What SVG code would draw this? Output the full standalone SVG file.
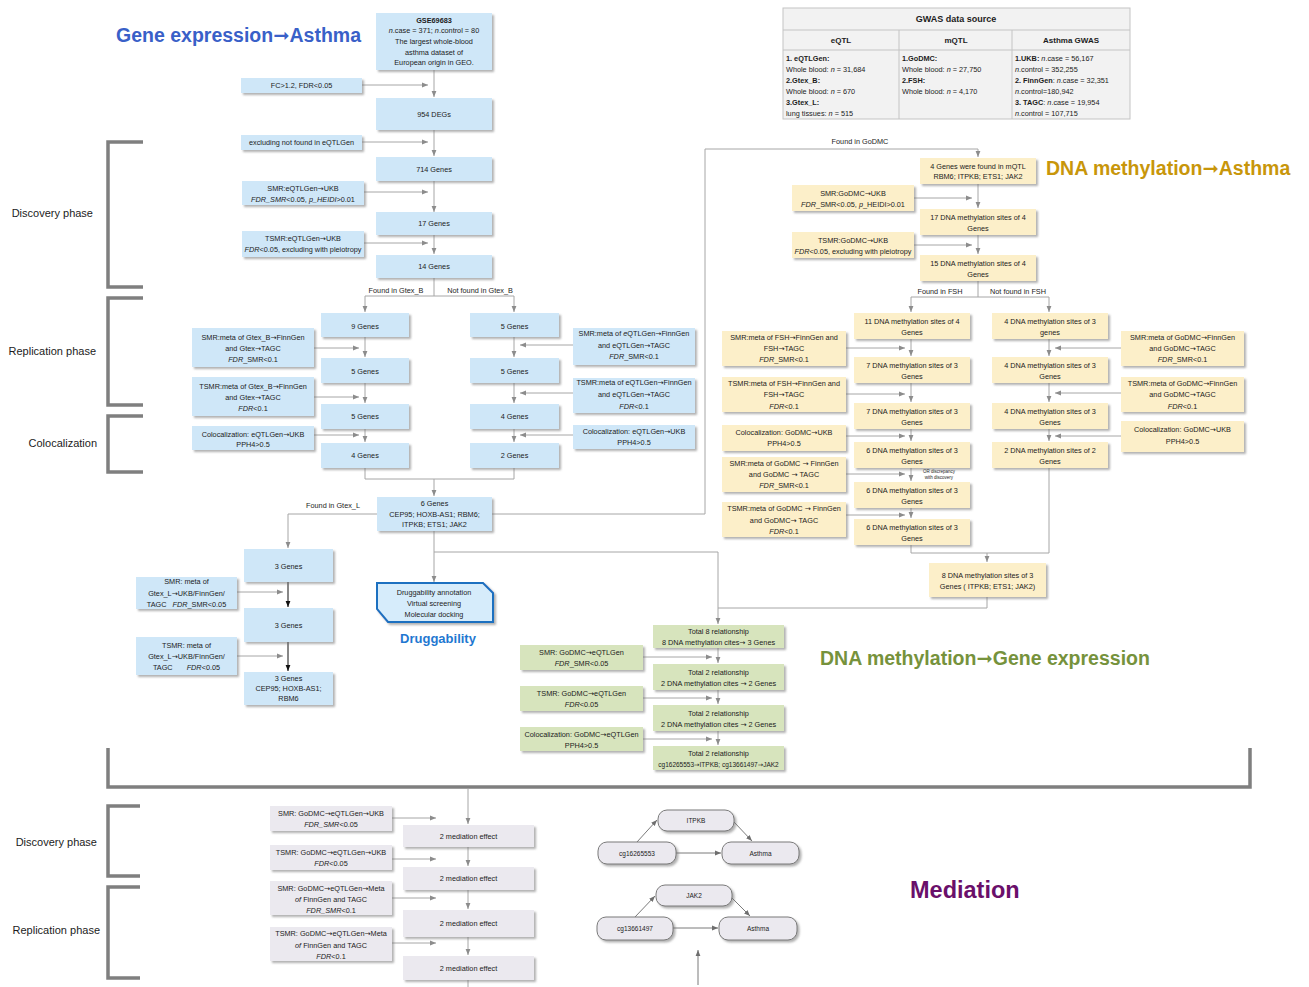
<svg xmlns="http://www.w3.org/2000/svg" width="1309" height="987" viewBox="0 0 1309 987">
<defs>
<filter id="sh" x="-10%" y="-15%" width="125%" height="150%"><feDropShadow dx="2" dy="2" stdDeviation="0.9" flood-color="#6f6f6f" flood-opacity="0.55"/></filter>
<marker id="a" viewBox="0 0 10 10" refX="10" refY="5" markerWidth="6" markerHeight="6" orient="auto" markerUnits="userSpaceOnUse"><path d="M0,1 L10,5 L0,9 z" fill="#8c8c8c"/></marker>
<marker id="k" viewBox="0 0 10 10" refX="10" refY="5" markerWidth="6" markerHeight="6" orient="auto" markerUnits="userSpaceOnUse"><path d="M0,1 L10,5 L0,9 z" fill="#111"/></marker>
<marker id="d" viewBox="0 0 10 10" refX="10" refY="5" markerWidth="6" markerHeight="6" orient="auto" markerUnits="userSpaceOnUse"><path d="M0,1 L10,5 L0,9 z" fill="#6e6e6e"/></marker>
</defs>
<style>
text{font-family:"Liberation Sans",Arial,sans-serif;fill:#1c1c1c}
.t{font-size:7.3px;text-anchor:middle}
.s{font-size:6.5px;text-anchor:middle}
.l{font-size:7.3px}
.bo{font-weight:bold}
.i{font-style:italic}
.ar{font-family:"DejaVu Sans",sans-serif;font-style:normal}
.h{font-weight:bold;font-size:19.5px}
.ph{font-size:11px;text-anchor:end}
.b{fill:#cfe7f8;filter:url(#sh)}
.y{fill:#fcefc9;filter:url(#sh)}
.g{fill:#d7e4bd;filter:url(#sh)}
.p{fill:#ebe9ef;filter:url(#sh)}
.pill{fill:#ebe9ef;stroke:#7a7a7a;stroke-width:1;filter:url(#sh)}
.c{fill:none;stroke:#a6a6a6;stroke-width:1}
.ca{fill:none;stroke:#a6a6a6;stroke-width:1;marker-end:url(#a)}
.ck{fill:none;stroke:#111;stroke-width:1;marker-end:url(#k)}
.cd{fill:none;stroke:#7a7a7a;stroke-width:1;marker-end:url(#d)}
.br{fill:none;stroke:#7f7f7f;stroke-width:3.5}
</style>
<rect width="1309" height="987" fill="#ffffff"/>

<!-- titles -->
<text x="116" y="42" class="h" style="fill:#3960c8">Gene expression<tspan class="ar">➞</tspan>Asthma</text>
<text x="1046" y="175" class="h" style="fill:#c8960a">DNA methylation<tspan class="ar">➞</tspan>Asthma</text>
<text x="820" y="665" class="h" style="fill:#76923c">DNA methylation<tspan class="ar">➞</tspan>Gene expression</text>
<text x="438" y="643" class="bo" style="fill:#1f78d1;font-size:13px;text-anchor:middle">Druggability</text>
<text x="910" y="898" class="bo" style="fill:#6a0f6a;font-size:23.5px">Mediation</text>

<!-- brackets -->
<g id="brackets">
<path class="br" d="M143,142 H108 V287 H143"/>
<path class="br" d="M143,298 H108 V405 H143"/>
<path class="br" d="M143,416 H108 V472 H143"/>
<path class="br" d="M108,748 V787 H1250 V748"/>
<path class="br" d="M140,806 H108 V876 H140"/>
<path class="br" d="M140,887 H108 V978 H140"/>
<text x="93" y="217" class="ph">Discovery phase</text>
<text x="96" y="355" class="ph">Replication phase</text>
<text x="97" y="447" class="ph">Colocalization</text>
<text x="97" y="846" class="ph">Discovery phase</text>
<text x="100" y="934" class="ph">Replication phase</text>
</g>

<!-- GWAS table -->
<g id="gwas_table">
<rect x="783" y="8" width="347" height="111" fill="#f2f2f2" stroke="#c4c4c4"/>
<line x1="783" y1="30" x2="1130" y2="30" stroke="#c4c4c4"/>
<line x1="783" y1="50" x2="1130" y2="50" stroke="#c4c4c4"/>
<line x1="899" y1="30" x2="899" y2="119" stroke="#c4c4c4"/>
<line x1="1012" y1="30" x2="1012" y2="119" stroke="#c4c4c4"/>
<text x="956" y="22" class="bo" style="font-size:9px;text-anchor:middle">GWAS data source</text>
<text x="841" y="43" class="bo" style="font-size:8px;text-anchor:middle">eQTL</text>
<text x="956" y="43" class="bo" style="font-size:8px;text-anchor:middle">mQTL</text>
<text x="1071" y="43" class="bo" style="font-size:8px;text-anchor:middle">Asthma GWAS</text>
<text x="786" y="61" class="l bo">1. eQTLGen:</text>
<text x="786" y="71.5" class="l">Whole blood: <tspan class="i">n</tspan> = 31,684</text>
<text x="786" y="82.5" class="l bo">2.Gtex_B:</text>
<text x="786" y="93.5" class="l">Whole blood: <tspan class="i">n</tspan> = 670</text>
<text x="786" y="104.5" class="l bo">3.Gtex_L:</text>
<text x="786" y="115.5" class="l">lung tissues: <tspan class="i">n</tspan> = 515</text>
<text x="902" y="61" class="l bo">1.GoDMC:</text>
<text x="902" y="71.5" class="l">Whole blood: <tspan class="i">n</tspan> = 27,750</text>
<text x="902" y="82.5" class="l bo">2.FSH:</text>
<text x="902" y="93.5" class="l">Whole blood: <tspan class="i">n</tspan> = 4,170</text>
<text x="1015" y="61" class="l"><tspan class="bo">1.UKB:</tspan> <tspan class="i">n</tspan>.case = 56,167</text>
<text x="1015" y="71.5" class="l"><tspan class="i">n</tspan>.control = 352,255</text>
<text x="1015" y="82.5" class="l"><tspan class="bo">2. FinnGen</tspan>: <tspan class="i">n</tspan>.case = 32,351</text>
<text x="1015" y="93.5" class="l"><tspan class="i">n</tspan>.control=180,942</text>
<text x="1015" y="104.5" class="l"><tspan class="bo">3. TAGC</tspan>: <tspan class="i">n</tspan>.case = 19,954</text>
<text x="1015" y="115.5" class="l"><tspan class="i">n</tspan>.control = 107,715</text>
</g>

<!-- connectors -->
<g id="connectors">
<path class="ca" d="M434,70 V97"/>
<path class="ca" d="M362,85 H428"/>
<path class="ca" d="M434,130 V156"/>
<path class="ca" d="M362,142 H428"/>
<path class="ca" d="M434,181 V212"/>
<path class="ca" d="M364,192 H428"/>
<path class="ca" d="M434,235 V254"/>
<path class="ca" d="M364,243 H428"/>
<path class="ca" d="M434,278 V296 H365 V312"/>
<path class="ca" d="M434,296 H514 V312"/>
<path class="ca" d="M365,337 V357"/>
<path class="ca" d="M314,348 H359"/>
<path class="ca" d="M365,383 V403"/>
<path class="ca" d="M314,397 H359"/>
<path class="ca" d="M365,429 V442"/>
<path class="ca" d="M314,435 H359"/>
<path class="ca" d="M514,337 V357"/>
<path class="ca" d="M573,345 H520"/>
<path class="ca" d="M514,383 V403"/>
<path class="ca" d="M573,393 H520"/>
<path class="ca" d="M514,429 V442"/>
<path class="ca" d="M573,435 H520"/>
<path class="c" d="M365,468 V479 H514 V468"/>
<path class="ca" d="M434,479 V496"/>
<path class="ca" d="M377,514 H288 V548"/>
<path class="ca" d="M492,514 H705 V149 H978 V157"/>
<path class="ca" d="M434,531 V582"/>
<path class="ca" d="M434,552 H718 V624"/>
<path class="ck" d="M288,582 V607"/>
<path class="ca" d="M237,592 H283"/>
<path class="ck" d="M288,642 V671"/>
<path class="ca" d="M237,656 H283"/>
<path class="ca" d="M978,184 V208"/>
<path class="ca" d="M914,198 H972"/>
<path class="ca" d="M978,235 V254"/>
<path class="ca" d="M914,245 H972"/>
<path class="ca" d="M978,281 V297 H911 V312"/>
<path class="ca" d="M978,297 H1049 V312"/>
<path class="ca" d="M911,339 V356"/>
<path class="ca" d="M846,348 H905"/>
<path class="ca" d="M911,383 V402"/>
<path class="ca" d="M846,394 H905"/>
<path class="ca" d="M911,429 V441"/>
<path class="ca" d="M846,436 H905"/>
<path class="ca" d="M911,468 V481"/>
<path class="ca" d="M846,474 H905"/>
<path class="ca" d="M911,508 V518"/>
<path class="ca" d="M846,515 H905"/>
<path class="ca" d="M1049,339 V356"/>
<path class="ca" d="M1121,348 H1055"/>
<path class="ca" d="M1049,383 V402"/>
<path class="ca" d="M1121,393 H1055"/>
<path class="ca" d="M1049,429 V441"/>
<path class="ca" d="M1121,436 H1055"/>
<path class="c" d="M911,545 V553 H1049 V468"/>
<path class="ca" d="M987,553 V562"/>
<path class="c" d="M987,597 V608 H718"/>
<path class="ca" d="M718,648 V663"/>
<path class="ca" d="M643,657 H712"/>
<path class="ca" d="M718,690 V704"/>
<path class="ca" d="M643,698 H712"/>
<path class="ca" d="M718,731 V745"/>
<path class="ca" d="M643,739 H712"/>
<path class="ca" d="M468,789 V824"/>
<path class="ca" d="M392,818 H436"/>
<path class="ca" d="M468,847 V866"/>
<path class="ca" d="M392,859 H436"/>
<path class="ca" d="M468,890 V909"/>
<path class="ca" d="M392,898 H436"/>
<path class="ca" d="M468,937 V955"/>
<path class="ca" d="M392,943 H436"/>
<path class="c" d="M468,980 V987"/>
<path class="cd" d="M637,842 L657,820"/>
<path class="cd" d="M734,822 L752,841"/>
<path class="cd" d="M676,853 H721"/>
<path class="cd" d="M635,917 L655,896"/>
<path class="cd" d="M731,897 L750,916"/>
<path class="cd" d="M673,928 H718"/>
<path class="cd" d="M698,985 V950"/>
<text x="396" y="292.5" class="t">Found in Gtex_B</text>
<text x="480" y="292.5" class="t">Not found in Gtex_B</text>
<text x="333" y="507.5" class="t">Found in Gtex_L</text>
<text x="860" y="143.5" class="t">Found in GoDMC</text>
<text x="940" y="293.5" class="t">Found in FSH</text>
<text x="1018" y="293.5" class="t">Not found in FSH</text>
<text x="939" y="473" style="font-size:4.5px;text-anchor:middle">OR discrepancy</text>
<text x="939" y="479" style="font-size:4.5px;text-anchor:middle">with discovery</text>
</g>

<!-- Gene expression nodes -->
<g id="n_gse"><rect class="b" x="376" y="13" width="116" height="57"/>
<text x="434" y="22.5" class="t bo">GSE69683</text>
<text x="434" y="33" class="t"><tspan class="i">n</tspan>.case = 371;  <tspan class="i">n</tspan>.control = 80</text>
<text x="434" y="43.5" class="t">The largest  whole-blood</text>
<text x="434" y="54.5" class="t">asthma dataset of</text>
<text x="434" y="64.5" class="t">European origin in GEO.</text></g>
<g id="n_fc"><rect class="b" x="241" y="78" width="121" height="15"/><text x="301.5" y="88" class="t">FC&gt;1.2, FDR&lt;0.05</text></g>
<g id="n_954"><rect class="b" x="376" y="98" width="116" height="32"/><text x="434" y="116.5" class="t">954 DEGs</text></g>
<g id="n_excl"><rect class="b" x="241" y="135" width="121" height="15"/><text x="301.5" y="145" class="t">excluding not found in eQTLGen</text></g>
<g id="n_714"><rect class="b" x="376" y="157" width="116" height="24"/><text x="434" y="171.5" class="t">714 Genes</text></g>
<g id="n_smr1"><rect class="b" x="242" y="181" width="122" height="24"/>
<text x="303" y="190.5" class="t">SMR:eQTLGen<tspan class="ar">→</tspan>UKB</text>
<text x="303" y="201.5" class="t"><tspan class="i">FDR_SMR</tspan>&lt;0.05, <tspan class="i">p_HEIDI</tspan>&gt;0.01</text></g>
<g id="n_17"><rect class="b" x="376" y="212" width="116" height="23"/><text x="434" y="226" class="t">17 Genes</text></g>
<g id="n_tsmr1"><rect class="b" x="242" y="231" width="122" height="26"/>
<text x="303" y="240.5" class="t">TSMR:eQTLGen<tspan class="ar">→</tspan>UKB</text>
<text x="303" y="251.5" class="t"><tspan class="i">FDR</tspan>&lt;0.05, excluding with pleiotropy</text></g>
<g id="n_14"><rect class="b" x="376" y="255" width="116" height="23"/><text x="434" y="269" class="t">14 Genes</text></g>

<g id="n_9"><rect class="b" x="321" y="313" width="88" height="24"/><text x="365" y="328.5" class="t">9 Genes</text></g>
<g id="n_smrB"><rect class="b" x="192" y="328" width="122" height="39"/>
<text x="253" y="339.5" class="t">SMR:meta of Gtex_B<tspan class="ar">→</tspan>FinnGen</text>
<text x="253" y="350.5" class="t">and Gtex<tspan class="ar">→</tspan>TAGC</text>
<text x="253" y="361.5" class="t"><tspan class="i">FDR</tspan>_SMR&lt;0.1</text></g>
<g id="n_5a"><rect class="b" x="321" y="358" width="88" height="25"/><text x="365" y="373.5" class="t">5 Genes</text></g>
<g id="n_tsmrB"><rect class="b" x="192" y="377" width="122" height="39"/>
<text x="253" y="388.5" class="t">TSMR:meta of Gtex_B<tspan class="ar">→</tspan>FinnGen</text>
<text x="253" y="399.5" class="t">and Gtex<tspan class="ar">→</tspan>TAGC</text>
<text x="253" y="410.5" class="t"><tspan class="i">FDR</tspan>&lt;0.1</text></g>
<g id="n_5b"><rect class="b" x="321" y="404" width="88" height="25"/><text x="365" y="419" class="t">5 Genes</text></g>
<g id="n_colB"><rect class="b" x="192" y="426" width="122" height="24"/>
<text x="253" y="436.5" class="t">Colocalization: eQTLGen<tspan class="ar">→</tspan>UKB</text>
<text x="253" y="446.5" class="t">PPH4&gt;0.5</text></g>
<g id="n_4a"><rect class="b" x="321" y="443" width="88" height="25"/><text x="365" y="458" class="t">4 Genes</text></g>

<g id="n_5c"><rect class="b" x="470" y="313" width="89" height="24"/><text x="514.5" y="328.5" class="t">5 Genes</text></g>
<g id="n_smrE"><rect class="b" x="573" y="328" width="122" height="37"/>
<text x="634" y="336" class="t">SMR:meta of <tspan class="i">e</tspan>QTLGen<tspan class="ar">→</tspan>FinnGen</text>
<text x="634" y="347.5" class="t">and eQTLGen<tspan class="ar">→</tspan>TAGC</text>
<text x="634" y="358.5" class="t"><tspan class="i">FDR</tspan>_SMR&lt;0.1</text></g>
<g id="n_5d"><rect class="b" x="470" y="358" width="89" height="25"/><text x="514.5" y="373.5" class="t">5 Genes</text></g>
<g id="n_tsmrE"><rect class="b" x="573" y="378" width="122" height="35"/>
<text x="634" y="384.5" class="t">TSMR:meta of eQTLGen<tspan class="ar">→</tspan>FinnGen</text>
<text x="634" y="396.5" class="t">and eQTLGen<tspan class="ar">→</tspan>TAGC</text>
<text x="634" y="408.5" class="t"><tspan class="i">FDR</tspan>&lt;0.1</text></g>
<g id="n_4b"><rect class="b" x="470" y="404" width="89" height="25"/><text x="514.5" y="419" class="t">4 Genes</text></g>
<g id="n_colE"><rect class="b" x="573" y="425" width="122" height="24"/>
<text x="634" y="433.5" class="t">Colocalization: eQTLGen<tspan class="ar">→</tspan>UKB</text>
<text x="634" y="444.5" class="t">PPH4&gt;0.5</text></g>
<g id="n_2"><rect class="b" x="470" y="443" width="89" height="25"/><text x="514.5" y="458" class="t">2 Genes</text></g>

<g id="n_6"><rect class="b" x="377" y="497" width="115" height="34"/>
<text x="434.5" y="505.5" class="t">6 Genes</text>
<text x="434.5" y="516.5" class="t">CEP95; HOXB-AS1; RBM6;</text>
<text x="434.5" y="527" class="t">ITPKB; ETS1; JAK2</text></g>
<g id="n_3a"><rect class="b" x="244" y="549" width="89" height="33"/><text x="288.5" y="568.5" class="t">3 Genes</text></g>
<g id="n_smrL"><rect class="b" x="136" y="577" width="101" height="32"/>
<text x="186.5" y="583.5" class="t">SMR: meta of</text>
<text x="186.5" y="595.5" class="t">Gtex_L<tspan class="ar">→</tspan>UKB/FinnGen/</text>
<text x="186.5" y="606.5" class="t">TAGC<tspan dx="6" class="i">FDR</tspan>_SMR&lt;0.05</text></g>
<g id="n_3b"><rect class="b" x="244" y="608" width="89" height="34"/><text x="288.5" y="627.5" class="t">3 Genes</text></g>
<g id="n_tsmrL"><rect class="b" x="136" y="637" width="101" height="38"/>
<text x="186.5" y="647.5" class="t">TSMR: meta of</text>
<text x="186.5" y="658.5" class="t">Gtex_L<tspan class="ar">→</tspan>UKB/FinnGen/</text>
<text x="186.5" y="669.5" class="t">TAGC<tspan dx="14" class="i">FDR</tspan>&lt;0.05</text></g>
<g id="n_3c"><rect class="b" x="244" y="672" width="89" height="33"/>
<text x="288.5" y="680.5" class="t">3 Genes</text>
<text x="288.5" y="690.5" class="t">CEP95; HOXB-AS1;</text>
<text x="288.5" y="700.5" class="t">RBM6</text></g>

<g id="n_drug"><polygon points="377,583 483,583 493,593 493,622 388,622 377,609" fill="#d6ecfb" stroke="#1f6fc0" stroke-width="2" filter="url(#sh)"/>
<text x="434" y="594.5" class="t">Druggability annotation</text>
<text x="434" y="605.5" class="t">Virtual screening</text>
<text x="434" y="616.5" class="t">Molecular docking</text></g>

<!-- DNA methylation nodes -->
<g id="m_4"><rect class="y" x="920" y="158" width="116" height="26"/>
<text x="978" y="168.5" class="t">4 Genes were found in mQTL</text>
<text x="978" y="178.5" class="t">RBM6; ITPKB; ETS1; JAK2</text></g>
<g id="m_smr"><rect class="y" x="792" y="185" width="122" height="26"/>
<text x="853" y="195.5" class="t">SMR:GoDMC<tspan class="ar">→</tspan>UKB</text>
<text x="853" y="206.5" class="t"><tspan class="i">FDR</tspan>_SMR&lt;0.05, <tspan class="i">p</tspan>_HEIDI&gt;0.01</text></g>
<g id="m_17"><rect class="y" x="920" y="209" width="116" height="26"/>
<text x="978" y="219.5" class="t">17 DNA methylation sites of 4</text>
<text x="978" y="230.5" class="t">Genes</text></g>
<g id="m_tsmr"><rect class="y" x="792" y="232" width="122" height="26"/>
<text x="853" y="242.5" class="t">TSMR:GoDMC<tspan class="ar">→</tspan>UKB</text>
<text x="853" y="253.5" class="t"><tspan class="i">FDR</tspan>&lt;0.05, excluding with pleiotropy</text></g>
<g id="m_15"><rect class="y" x="920" y="255" width="116" height="26"/>
<text x="978" y="265.5" class="t">15 DNA methylation sites of 4</text>
<text x="978" y="276.5" class="t">Genes</text></g>

<g id="m_11"><rect class="y" x="854" y="313" width="116" height="26"/>
<text x="912" y="323.5" class="t">11 DNA methylation sites of 4</text>
<text x="912" y="334.5" class="t">Genes</text></g>
<g id="m_smrF"><rect class="y" x="722" y="331" width="124" height="35"/>
<text x="784" y="339.5" class="t">SMR:meta of FSH<tspan class="ar">→</tspan>FinnGen and</text>
<text x="784" y="350.5" class="t">FSH<tspan class="ar">→</tspan>TAGC</text>
<text x="784" y="361.5" class="t"><tspan class="i">FDR</tspan>_SMR&lt;0.1</text></g>
<g id="m_7a"><rect class="y" x="854" y="357" width="116" height="26"/>
<text x="912" y="367.5" class="t">7 DNA methylation sites of 3</text>
<text x="912" y="378.5" class="t">Genes</text></g>
<g id="m_tsmrF"><rect class="y" x="722" y="377" width="124" height="35"/>
<text x="784" y="385.5" class="t">TSMR:meta of FSH<tspan class="ar">→</tspan>FinnGen and</text>
<text x="784" y="396.5" class="t">FSH<tspan class="ar">→</tspan>TAGC</text>
<text x="784" y="408.5" class="t"><tspan class="i">FDR</tspan>&lt;0.1</text></g>
<g id="m_7b"><rect class="y" x="854" y="403" width="116" height="26"/>
<text x="912" y="413.5" class="t">7 DNA methylation sites of 3</text>
<text x="912" y="424.5" class="t">Genes</text></g>
<g id="m_colF"><rect class="y" x="722" y="425" width="124" height="26"/>
<text x="784" y="434.5" class="t">Colocalization: GoDMC<tspan class="ar">→</tspan>UKB</text>
<text x="784" y="445.5" class="t">PPH4&gt;0.5</text></g>
<g id="m_6a"><rect class="y" x="854" y="442" width="116" height="26"/>
<text x="912" y="452.5" class="t">6 DNA methylation sites of 3</text>
<text x="912" y="463.5" class="t">Genes</text></g>
<g id="m_smrG"><rect class="y" x="722" y="457" width="124" height="35"/>
<text x="784" y="465.5" class="t">SMR:meta of GoDMC <tspan class="ar">→</tspan> FinnGen</text>
<text x="784" y="476.5" class="t">and GoDMC <tspan class="ar">→</tspan> TAGC</text>
<text x="784" y="487.5" class="t"><tspan class="i">FDR</tspan>_SMR&lt;0.1</text></g>
<g id="m_6b"><rect class="y" x="854" y="482" width="116" height="26"/>
<text x="912" y="492.5" class="t">6 DNA methylation sites of 3</text>
<text x="912" y="503.5" class="t">Genes</text></g>
<g id="m_tsmrG"><rect class="y" x="722" y="502" width="124" height="35"/>
<text x="784" y="510.5" class="t">TSMR:meta of GoDMC <tspan class="ar">→</tspan> FinnGen</text>
<text x="784" y="522.5" class="t">and GoDMC<tspan class="ar">→</tspan> TAGC</text>
<text x="784" y="533.5" class="t"><tspan class="i">FDR</tspan>&lt;0.1</text></g>
<g id="m_6c"><rect class="y" x="854" y="519" width="116" height="26"/>
<text x="912" y="529.5" class="t">6 DNA methylation sites of 3</text>
<text x="912" y="540.5" class="t">Genes</text></g>

<g id="m_4c"><rect class="y" x="992" y="313" width="116" height="26"/>
<text x="1050" y="323.5" class="t">4 DNA methylation sites of 3</text>
<text x="1050" y="334.5" class="t">genes</text></g>
<g id="m_smrR"><rect class="y" x="1121" y="331" width="123" height="35"/>
<text x="1182.5" y="339.5" class="t">SMR:meta of GoDMC<tspan class="ar">→</tspan>FinnGen</text>
<text x="1182.5" y="350.5" class="t">and GoDMC<tspan class="ar">→</tspan>TAGC</text>
<text x="1182.5" y="361.5" class="t"><tspan class="i">FDR</tspan>_SMR&lt;0.1</text></g>
<g id="m_4d"><rect class="y" x="992" y="357" width="116" height="26"/>
<text x="1050" y="367.5" class="t">4 DNA methylation sites of 3</text>
<text x="1050" y="378.5" class="t">Genes</text></g>
<g id="m_tsmrR"><rect class="y" x="1121" y="377" width="123" height="35"/>
<text x="1182.5" y="385.5" class="t">TSMR:meta of GoDMC<tspan class="ar">→</tspan>FinnGen</text>
<text x="1182.5" y="396.5" class="t">and GoDMC<tspan class="ar">→</tspan>TAGC</text>
<text x="1182.5" y="408.5" class="t"><tspan class="i">FDR</tspan>&lt;0.1</text></g>
<g id="m_4e"><rect class="y" x="992" y="403" width="116" height="26"/>
<text x="1050" y="413.5" class="t">4 DNA methylation sites of 3</text>
<text x="1050" y="424.5" class="t">Genes</text></g>
<g id="m_colR"><rect class="y" x="1121" y="421" width="123" height="31"/>
<text x="1182.5" y="431.5" class="t">Colocalization: GoDMC<tspan class="ar">→</tspan>UKB</text>
<text x="1182.5" y="443.5" class="t">PPH4&gt;0.5</text></g>
<g id="m_2"><rect class="y" x="992" y="442" width="116" height="26"/>
<text x="1050" y="452.5" class="t">2 DNA methylation sites of 2</text>
<text x="1050" y="463.5" class="t">Genes</text></g>
<g id="m_8"><rect class="y" x="929" y="563" width="117" height="34"/>
<text x="987.5" y="577.5" class="t">8 DNA methylation sites of 3</text>
<text x="987.5" y="588.5" class="t">Genes ( ITPKB; ETS1; JAK2)</text></g>

<!-- DNA methylation -> gene expression -->
<g id="e_8"><rect class="g" x="653" y="625" width="131" height="23"/>
<text x="718.5" y="633.5" class="t">Total 8 relationship</text>
<text x="718.5" y="644.5" class="t">8 DNA methylation cites<tspan class="ar">→</tspan> 3 Genes</text></g>
<g id="e_smr"><rect class="g" x="520" y="645" width="123" height="25"/>
<text x="581.5" y="654.5" class="t">SMR: GoDMC<tspan class="ar">→</tspan>eQTLGen</text>
<text x="581.5" y="665.5" class="t"><tspan class="i">FDR</tspan>_SMR&lt;0.05</text></g>
<g id="e_2a"><rect class="g" x="653" y="664" width="131" height="26"/>
<text x="718.5" y="674.5" class="t">Total 2 relationship</text>
<text x="718.5" y="685.5" class="t">2 DNA methylation cites <tspan class="ar">→</tspan> 2 Genes</text></g>
<g id="e_tsmr"><rect class="g" x="520" y="686" width="123" height="25"/>
<text x="581.5" y="695.5" class="t">TSMR: GoDMC<tspan class="ar">→</tspan>eQTLGen</text>
<text x="581.5" y="706.5" class="t"><tspan class="i">FDR</tspan>&lt;0.05</text></g>
<g id="e_2b"><rect class="g" x="653" y="705" width="131" height="26"/>
<text x="718.5" y="715.5" class="t">Total 2 relationship</text>
<text x="718.5" y="726.5" class="t">2 DNA methylation cites <tspan class="ar">→</tspan> 2 Genes</text></g>
<g id="e_col"><rect class="g" x="520" y="727" width="123" height="24"/>
<text x="581.5" y="736.5" class="t">Colocalization: GoDMC<tspan class="ar">→</tspan>eQTLGen</text>
<text x="581.5" y="747.5" class="t">PPH4&gt;0.5</text></g>
<g id="e_2c"><rect class="g" x="653" y="746" width="131" height="24"/>
<text x="718.5" y="755.5" class="t">Total 2 relationship</text>
<text x="718.5" y="766.5" class="s">cg16265553<tspan class="ar">→</tspan>ITPKB;  cg13661497<tspan class="ar">→</tspan>JAK2</text></g>

<!-- Mediation -->
<g id="d_smr1"><rect class="p" x="270" y="806" width="122" height="25"/>
<text x="331" y="815.5" class="t">SMR: GoDMC<tspan class="ar">→</tspan>eQTLGen<tspan class="ar">→</tspan>UKB</text>
<text x="331" y="826.5" class="t"><tspan class="i">FDR_SMR</tspan>&lt;0.05</text></g>
<g id="d_m1"><rect class="p" x="403" y="825" width="131" height="22"/><text x="468.5" y="838.5" class="t">2 mediation effect</text></g>
<g id="d_tsmr1"><rect class="p" x="270" y="845" width="122" height="25"/>
<text x="331" y="854.5" class="t">TSMR: GoDMC<tspan class="ar">→</tspan>eQTLGen<tspan class="ar">→</tspan>UKB</text>
<text x="331" y="865.5" class="t"><tspan class="i">FDR</tspan>&lt;0.05</text></g>
<g id="d_m2"><rect class="p" x="403" y="867" width="131" height="23"/><text x="468.5" y="880.5" class="t">2 mediation effect</text></g>
<g id="d_smr2"><rect class="p" x="270" y="881" width="122" height="34"/>
<text x="331" y="890.5" class="t">SMR: GoDMC<tspan class="ar">→</tspan>eQTLGen<tspan class="ar">→</tspan>Meta</text>
<text x="331" y="901.5" class="t"><tspan class="i">of</tspan> FinnGen and TAGC</text>
<text x="331" y="912.5" class="t"><tspan class="i">FDR_SMR</tspan>&lt;0.1</text></g>
<g id="d_m3"><rect class="p" x="403" y="910" width="131" height="27"/><text x="468.5" y="925.5" class="t">2 mediation effect</text></g>
<g id="d_tsmr2"><rect class="p" x="270" y="927" width="122" height="34"/>
<text x="331" y="935.5" class="t">TSMR: GoDMC<tspan class="ar">→</tspan>eQTLGen<tspan class="ar">→</tspan>Meta</text>
<text x="331" y="947.5" class="t"><tspan class="i">of</tspan> FinnGen and TAGC</text>
<text x="331" y="958.5" class="t"><tspan class="i">FDR</tspan>&lt;0.1</text></g>
<g id="d_m4"><rect class="p" x="403" y="956" width="131" height="24"/><text x="468.5" y="970.5" class="t">2 mediation effect</text></g>

<g id="med_itpkb"><rect class="pill" x="658" y="810" width="76" height="21" rx="9"/><text x="696" y="822.5" class="s">ITPKB</text></g>
<g id="med_cg1"><rect class="pill" x="598" y="842" width="78" height="22" rx="9"/><text x="637" y="855.5" class="s">cg16265553</text></g>
<g id="med_asthma1"><rect class="pill" x="722" y="842" width="77" height="22" rx="9"/><text x="760.5" y="855.5" class="s">Asthma</text></g>
<g id="med_jak2"><rect class="pill" x="656" y="885" width="76" height="21" rx="9"/><text x="694" y="897.5" class="s">JAK2</text></g>
<g id="med_cg2"><rect class="pill" x="597" y="917" width="76" height="23" rx="9"/><text x="635" y="930.5" class="s">cg13661497</text></g>
<g id="med_asthma2"><rect class="pill" x="719" y="917" width="78" height="23" rx="9"/><text x="758" y="930.5" class="s">Asthma</text></g>
</svg>
